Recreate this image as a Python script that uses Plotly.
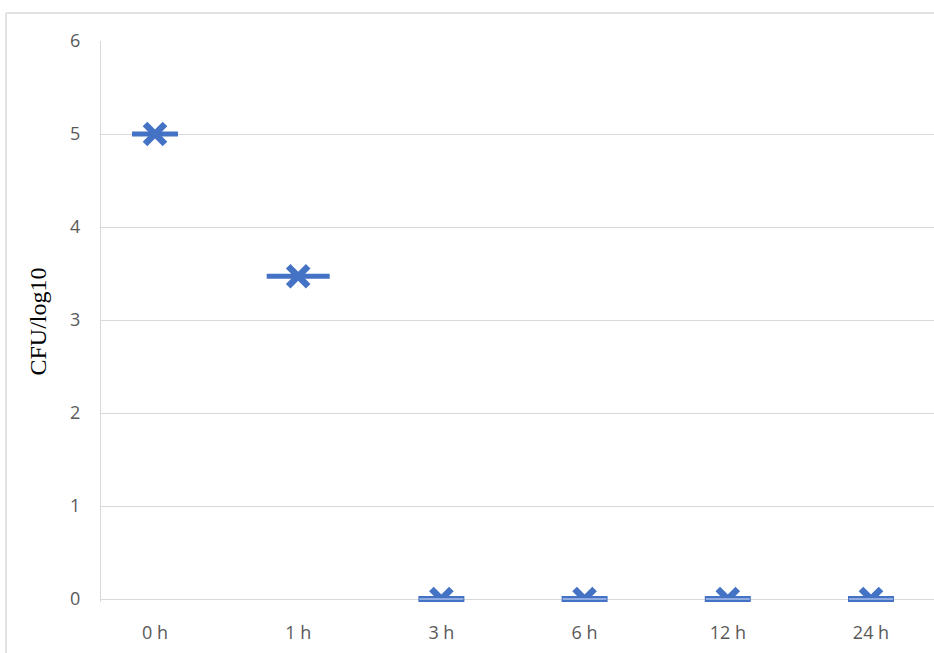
import plotly.graph_objects as go

categories = ["0 h", "1 h", "3 h", "6 h", "12 h", "24 h"]
values = [5.0, 3.47, 0.0, 0.0, 0.0, 0.0]
box_widths_px = [46, 63, 46, 46, 46, 46]
y_ticks = [0, 1, 2, 3, 4, 5, 6]

BLUE = "#4472c4"
LIGHT = "#a9bfe8"
GRID = "#d9d9d9"
LINE_EW = 1.4  # plotly line-ew length = 1.4 * size

zero_x = [c for c, v in zip(categories, values) if v == 0]
zero_y = [v for v in values if v == 0]
zero_w = [w / LINE_EW for w, v in zip(box_widths_px, values) if v == 0]
nz_x = [c for c, v in zip(categories, values) if v != 0]
nz_y = [v for v in values if v != 0]
nz_w = [w / LINE_EW for w, v in zip(box_widths_px, values) if v != 0]

fig = go.Figure()
# collapsed boxes (non-zero)
fig.add_trace(go.Scatter(x=nz_x, y=nz_y, mode="markers", hoverinfo="skip",
                         marker=dict(symbol="line-ew", size=nz_w, color=BLUE, opacity=1,
                                     line=dict(color=BLUE, width=5))))
# mean markers
fig.add_trace(go.Scatter(x=categories, y=values, mode="markers",
                         marker=dict(symbol="x-thin", size=20, color=BLUE, opacity=1,
                                     line=dict(color=BLUE, width=6.5))))
# zero-level boxes drawn over the means
fig.add_trace(go.Scatter(x=zero_x, y=zero_y, mode="markers", hoverinfo="skip",
                         marker=dict(symbol="line-ew", size=zero_w, color=BLUE, opacity=1,
                                     line=dict(color=BLUE, width=6))))
fig.add_trace(go.Scatter(x=zero_x, y=zero_y, mode="markers", hoverinfo="skip",
                         marker=dict(symbol="line-ew", size=[w - 1.5 for w in zero_w],
                                     color=LIGHT, opacity=1,
                                     line=dict(color=LIGHT, width=1.5))))

W, H = 934, 653
L, R, T, B = 101, 0, 41, 51
pw, ph = W - L - R, H - T - B

fig.update_layout(
    width=W, height=H,
    margin=dict(l=L, r=R, t=T, b=B),
    paper_bgcolor="white", plot_bgcolor="white",
    showlegend=False,
    font=dict(family="Open Sans", color="#595959", size=18),
    xaxis=dict(type="category", categoryorder="array", categoryarray=categories,
               range=[-0.377, 5.44], showgrid=False, zeroline=False,
               showline=False, ticks="", ticklabelstandoff=18,
               tickfont=dict(size=18, color="#595959", family="Open Sans")),
    yaxis=dict(range=[-0.0322, 6], tickvals=y_ticks, showgrid=True,
               gridcolor=GRID, gridwidth=1, zeroline=False,
               showline=True, linecolor=GRID, linewidth=1,
               ticks="", ticklabelstandoff=16,
               tickfont=dict(size=18, color="#595959", family="Open Sans")),
    shapes=[
        dict(type="line", xref="paper", yref="paper",
             x0=(6 - L) / pw, x1=(6 - L) / pw,
             y0=1 + (T - 13) / ph, y1=-(H - T - ph) / ph - 0.1,
             line=dict(color=GRID, width=1.5)),
        dict(type="line", xref="paper", yref="paper",
             x0=(6 - L) / pw, x1=1.05,
             y0=1 + (T - 13) / ph, y1=1 + (T - 13) / ph,
             line=dict(color=GRID, width=1.5)),
    ],
)
fig.update_yaxes(title=dict(text="CFU/log10", standoff=16,
                            font=dict(family="Liberation Serif", size=24, color="#000000")))

fig.write_html("out.html", config={"displayModeBar": False},
               post_script="document.body.style.margin='0';document.body.style.overflow='hidden';")
